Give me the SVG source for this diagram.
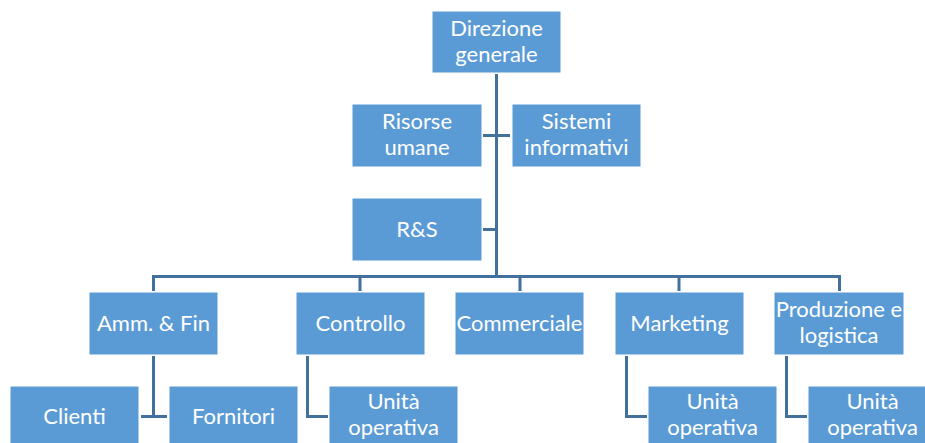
<svg xmlns="http://www.w3.org/2000/svg" width="925" height="443" viewBox="0 0 925 443">
  <style>
    .box { fill: #5B9BD5; stroke: #FFFFFF; stroke-width: 1; }
    .lbl { fill: #FFFFFF; font-family: Lato, "Open Sans", "Liberation Sans", sans-serif; font-size: 22px; text-anchor: middle; }
    .wire { fill: none; stroke: #41719C; stroke-width: 3; }
  </style>
  <rect width="925" height="443" fill="#FFFFFF"/>

  <!-- connectors -->
  <g id="connectors">
    <path class="wire" d="M496.5 74 V276"/>
    <path class="wire" d="M483 135.5 H510"/>
    <path class="wire" d="M483 229.5 H496.5"/>
    <path class="wire" d="M153.5 276.5 H839.5"/>
    <path class="wire" d="M153.5 275 V291 M360 276 V291 M520 276 V291 M679 276 V291 M839.5 275 V291"/>
    <path class="wire" d="M153.5 356 V416.5 M141 416.5 H167"/>
    <path class="wire" d="M307.5 356 V416.5 H328"/>
    <path class="wire" d="M626.5 356 V416.5 H647"/>
    <path class="wire" d="M786.5 356 V416.5 H807"/>
  </g>

  <g id="direzione-generale">
    <rect class="box" x="432" y="11" width="129" height="62"/>
    <text class="lbl" x="496.5" y="36">Direzione</text>
    <text class="lbl" x="496.5" y="62">generale</text>
  </g>

  <g id="risorse-umane">
    <rect class="box" x="352" y="104" width="130" height="63"/>
    <text class="lbl" x="417" y="129">Risorse</text>
    <text class="lbl" x="417" y="155">umane</text>
  </g>

  <g id="sistemi-informativi">
    <rect class="box" x="512" y="104" width="129" height="63"/>
    <text class="lbl" x="576.5" y="129">Sistemi</text>
    <text class="lbl" x="576.5" y="155">informativi</text>
  </g>

  <g id="r-s">
    <rect class="box" x="352" y="198" width="130" height="63"/>
    <text class="lbl" x="417" y="237">R&amp;S</text>
  </g>

  <g id="amm-fin">
    <rect class="box" x="89" y="292" width="129" height="63"/>
    <text class="lbl" x="153.5" y="331">Amm. &amp; Fin</text>
  </g>

  <g id="controllo">
    <rect class="box" x="296" y="292" width="129" height="63"/>
    <text class="lbl" x="360.5" y="331">Controllo</text>
  </g>

  <g id="commerciale">
    <rect class="box" x="455" y="292" width="129" height="63"/>
    <text class="lbl" x="519.5" y="331">Commerciale</text>
  </g>

  <g id="marketing">
    <rect class="box" x="615" y="292" width="129" height="63"/>
    <text class="lbl" x="679.5" y="331">Marketing</text>
  </g>

  <g id="produzione-logistica">
    <rect class="box" x="774" y="292" width="130" height="63"/>
    <text class="lbl" x="839" y="317">Produzione e</text>
    <text class="lbl" x="839" y="343">logistica</text>
  </g>

  <g id="clienti">
    <rect class="box" x="10" y="386" width="129" height="63"/>
    <text class="lbl" x="74.5" y="424">Clienti</text>
  </g>

  <g id="fornitori">
    <rect class="box" x="169" y="386" width="129" height="63"/>
    <text class="lbl" x="233.5" y="424">Fornitori</text>
  </g>

  <g id="unita-controllo">
    <rect class="box" x="329" y="386" width="129" height="63"/>
    <text class="lbl" x="393.5" y="409">Unità</text>
    <text class="lbl" x="393.5" y="435">operativa</text>
  </g>

  <g id="unita-marketing">
    <rect class="box" x="648" y="386" width="129" height="63"/>
    <text class="lbl" x="712.5" y="409">Unità</text>
    <text class="lbl" x="712.5" y="435">operativa</text>
  </g>

  <g id="unita-produzione">
    <rect class="box" x="808" y="386" width="129" height="63"/>
    <text class="lbl" x="872.5" y="409">Unità</text>
    <text class="lbl" x="872.5" y="435">operativa</text>
  </g>
</svg>
